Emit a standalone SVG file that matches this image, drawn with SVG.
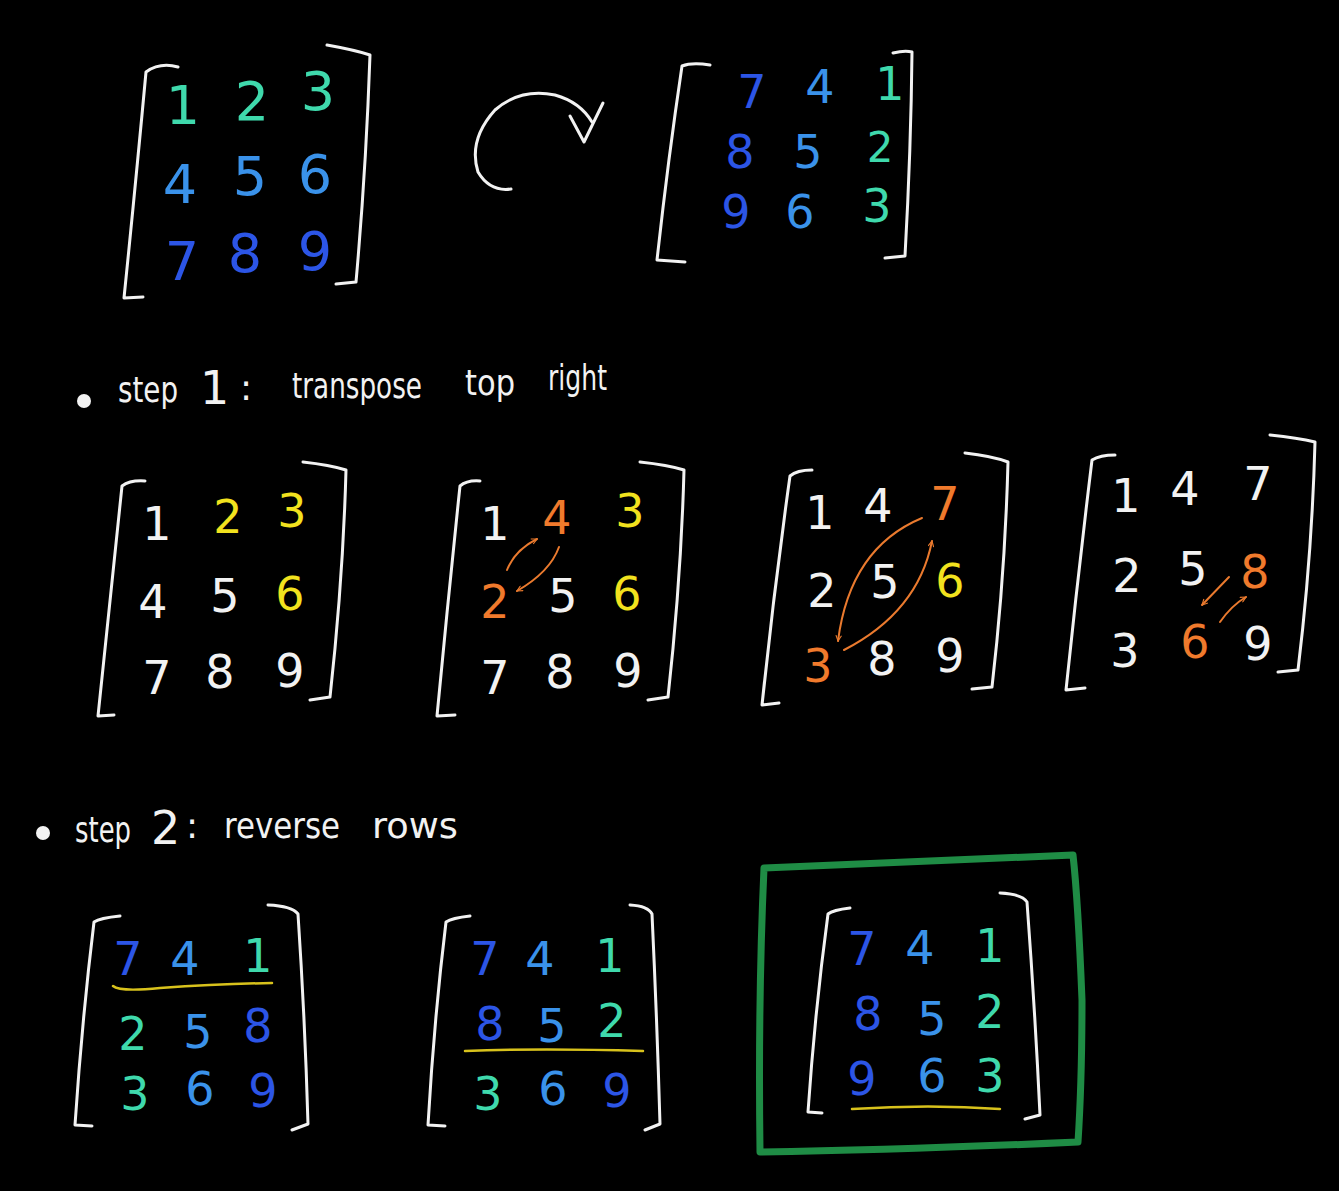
<svg xmlns="http://www.w3.org/2000/svg" width="1339" height="1191" viewBox="0 0 1339 1191">
<defs>
<style>
.br{fill:none;stroke:#f2f2f2;stroke-width:3;stroke-linecap:round;stroke-linejoin:round}
.d{font-family:"DejaVu Sans",sans-serif;text-anchor:middle;font-size:46px}
.big{font-size:54px}
.sm{font-size:42px}
.w{fill:#f2f2f2}.y{fill:#f2e21e}.o{fill:#f07a2c}
.t{fill:#3fd9ac}.lb{fill:#3a92ea}.db{fill:#2c55e6}
.lbl{font-family:"DejaVu Sans",sans-serif;font-size:36px;fill:#f2f2f2}
.lbl.n{font-size:46px}
.ul{fill:none;stroke:#d8c21c;stroke-width:2.5;stroke-linecap:round}
.sw{fill:none;stroke:#ea7a2e;stroke-width:2;stroke-linecap:round;marker-end:url(#ah)}
</style>
<marker id="ah" viewBox="0 0 10 10" refX="9" refY="5" markerWidth="7" markerHeight="7" orient="auto-start-reverse" markerUnits="userSpaceOnUse">
<path d="M1,1 L9,5 L1,9" fill="none" stroke="#ea7a2e" stroke-width="1.6"/>
</marker>
</defs>
<rect width="1339" height="1191" fill="#000"/>

<g id="matrix-original">
<path class="br" d="M178,67 Q160,62 146,72 Q136,180 124,298 L143,297"/>
<path class="br" d="M327,45 Q355,50 370,55 Q366,170 356,282 L336,284"/>
<text class="d big t" x="183" y="124">1</text><text class="d big t" x="252" y="120">2</text><text class="d big t" x="318" y="110">3</text>
<text class="d big lb" x="180" y="203">4</text><text class="d big lb" x="250" y="195">5</text><text class="d big lb" x="315" y="193">6</text>
<text class="d big db" x="182" y="280">7</text><text class="d big db" x="245" y="272">8</text><text class="d big db" x="315" y="270">9</text>
</g>

<g id="matrix-rotated">
<path class="br" d="M710,65 Q692,62 682,66 Q668,160 657,260 L685,262"/>
<path class="br" d="M893,53 Q905,50 912,52 Q911,150 905,256 L885,258"/>
<text class="d db" x="752" y="108">7</text><text class="d lb" x="820" y="103">4</text><text class="d t" x="890" y="100">1</text>
<text class="d db" x="740" y="168">8</text><text class="d lb" x="808" y="168">5</text><text class="d sm t" x="880" y="162">2</text>
<text class="d db" x="736" y="228">9</text><text class="d lb" x="800" y="228">6</text><text class="d t" x="877" y="222">3</text>
</g>

<g id="label-step1">
<circle cx="84" cy="401" r="7" fill="#f2f2f2"/>
<text class="lbl" x="118" y="402" textLength="60" lengthAdjust="spacingAndGlyphs">step</text>
<text class="lbl n" x="200" y="404">1</text>
<text class="lbl" x="240" y="400">:</text>
<text class="lbl" x="292" y="398" textLength="130" lengthAdjust="spacingAndGlyphs">transpose</text>
<text class="lbl" x="465" y="395" textLength="50" lengthAdjust="spacingAndGlyphs">top</text>
<text class="lbl" x="548" y="390" textLength="59" lengthAdjust="spacingAndGlyphs">right</text>
</g>

<g id="step1-a">
<path class="br" d="M145,481 Q130,480 122,486 Q110,600 98,716 L114,715"/>
<path class="br" d="M303,462 Q330,465 346,470 Q343,580 330,697 L310,700"/>
<text class="d w" x="157" y="540">1</text><text class="d y" x="228" y="533">2</text><text class="d y" x="292" y="527">3</text>
<text class="d w" x="153" y="618">4</text><text class="d w" x="225" y="612">5</text><text class="d y" x="290" y="610">6</text>
<text class="d w" x="157" y="694">7</text><text class="d w" x="220" y="688">8</text><text class="d w" x="290" y="687">9</text>
</g>

<g id="step1-b">
<path class="br" d="M480,481 Q467,480 460,486 Q448,600 437,716 L455,715"/>
<path class="br" d="M640,462 Q668,465 684,470 Q681,580 668,697 L648,700"/>
<text class="d w" x="495" y="540">1</text><text class="d o" x="557" y="534">4</text><text class="d y" x="630" y="527">3</text>
<text class="d o" x="495" y="618">2</text><text class="d w" x="563" y="612">5</text><text class="d y" x="627" y="610">6</text>
<text class="d w" x="495" y="694">7</text><text class="d w" x="560" y="688">8</text><text class="d w" x="628" y="687">9</text>
</g>

<g id="step1-c">
<path class="br" d="M812,470 Q797,470 790,476 Q774,590 762,705 L779,703"/>
<path class="br" d="M965,453 Q992,456 1008,462 Q1005,575 992,687 L972,689"/>
<text class="d w" x="820" y="529">1</text><text class="d w" x="878" y="522">4</text><text class="d o" x="945" y="520">7</text>
<text class="d w" x="822" y="607">2</text><text class="d w" x="885" y="598">5</text><text class="d y" x="950" y="597">6</text>
<text class="d o" x="818" y="682">3</text><text class="d w" x="882" y="675">8</text><text class="d w" x="950" y="672">9</text>
</g>

<g id="step1-d">
<path class="br" d="M1115,455 Q1100,455 1092,460 Q1078,575 1066,690 L1085,688"/>
<path class="br" d="M1270,435 Q1298,438 1315,442 Q1312,555 1298,670 L1278,672"/>
<text class="d w" x="1126" y="512">1</text><text class="d w" x="1185" y="505">4</text><text class="d w" x="1258" y="500">7</text>
<text class="d w" x="1127" y="592">2</text><text class="d w" x="1193" y="585">5</text><text class="d o" x="1255" y="588">8</text>
<text class="d w" x="1125" y="667">3</text><text class="d o" x="1195" y="658">6</text><text class="d w" x="1258" y="660">9</text>
</g>

<g id="label-step2">
<circle cx="43" cy="833" r="7" fill="#f2f2f2"/>
<text class="lbl" x="75" y="842" textLength="56" lengthAdjust="spacingAndGlyphs">step</text>
<text class="lbl n" x="151" y="844">2</text>
<text class="lbl" x="186" y="838">:</text>
<text class="lbl" x="224" y="838" textLength="116" lengthAdjust="spacingAndGlyphs">reverse</text>
<text class="lbl" x="372" y="838" textLength="86" lengthAdjust="spacingAndGlyphs">rows</text>
</g>

<g id="step2-a">
<path class="br" d="M120,916 Q100,918 94,922 Q82,1020 75,1125 L92,1126"/>
<path class="br" d="M268,905 Q292,906 298,914 Q305,1020 308,1124 L292,1130"/>
<text class="d db" x="128" y="975">7</text><text class="d lb" x="185" y="975">4</text><text class="d t" x="258" y="972">1</text>
<path class="ul" d="M113,986 Q120,992 160,988 Q220,984 272,983"/>
<text class="d t" x="133" y="1050">2</text><text class="d lb" x="198" y="1048">5</text><text class="d db" x="258" y="1042">8</text>
<text class="d t" x="135" y="1110">3</text><text class="d lb" x="200" y="1105">6</text><text class="d db" x="263" y="1107">9</text>
</g>

<g id="step2-b">
<path class="br" d="M470,916 Q452,918 446,922 Q434,1020 428,1125 L445,1126"/>
<path class="br" d="M630,905 Q648,906 652,914 Q657,1020 660,1124 L645,1130"/>
<text class="d db" x="485" y="975">7</text><text class="d lb" x="540" y="975">4</text><text class="d t" x="610" y="972">1</text>
<text class="d db" x="490" y="1040">8</text><text class="d lb" x="552" y="1042">5</text><text class="d t" x="612" y="1037">2</text>
<path class="ul" d="M465,1051 Q540,1048 643,1051"/>
<text class="d t" x="488" y="1110">3</text><text class="d lb" x="553" y="1105">6</text><text class="d db" x="617" y="1107">9</text>
</g>

<g id="step2-result">
<path d="M764,868 Q900,862 1073,855 Q1078,900 1082,1000 Q1082,1080 1078,1142 Q900,1150 760,1152 Q758,1000 764,868 Z" fill="none" stroke="#1f8c45" stroke-width="7" stroke-linejoin="round"/>
<path class="br" d="M850,908 Q833,910 828,914 Q815,1010 808,1112 L822,1113"/>
<path class="br" d="M1000,893 Q1022,894 1027,902 Q1035,1010 1040,1115 L1025,1119"/>
<text class="d db" x="862" y="965">7</text><text class="d lb" x="920" y="964">4</text><text class="d t" x="990" y="962">1</text>
<text class="d db" x="868" y="1030">8</text><text class="d lb" x="932" y="1035">5</text><text class="d t" x="990" y="1028">2</text>
<text class="d db" x="862" y="1095">9</text><text class="d lb" x="932" y="1092">6</text><text class="d t" x="990" y="1092">3</text>
<path class="ul" d="M852,1109 Q930,1104 1000,1109"/>
</g>

<g id="connectors">
<path d="M511,189 Q490,192 478,172 Q468,140 495,110 Q520,88 555,95 Q580,102 592,122" fill="none" stroke="#f2f2f2" stroke-width="3" stroke-linecap="round"/>
<path d="M570,116 L584,142 L603,103" fill="none" stroke="#f2f2f2" stroke-width="3" stroke-linecap="round" stroke-linejoin="round"/>
<path class="sw" d="M507,570 Q515,550 537,539"/>
<path class="sw" d="M559,547 Q550,572 517,591"/>
<path class="sw" d="M922,518 Q850,548 838,641"/>
<path class="sw" d="M844,650 Q918,612 932,541"/>
<path class="sw" d="M1229,577 L1202,605"/>
<path class="sw" d="M1220,622 Q1232,605 1246,597"/>
</g>
</svg>
